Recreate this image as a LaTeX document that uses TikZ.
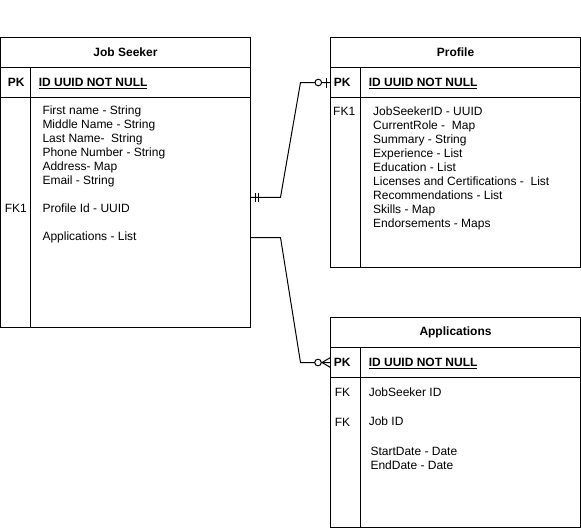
\documentclass[tikz,border=0pt]{standalone}
\usepackage{fontspec}
\setmainfont{Liberation Sans}
\usetikzlibrary{positioning}

\begin{document}
\begin{tikzpicture}[x=1pt,y=-1pt,line width=1pt,node distance=0pt,
                    every node/.style={font=\fontsize{12}{14}\selectfont}]
  \tikzstyle{tablerow}=[draw,rectangle,minimum width=250pt,minimum height=30pt,
                        inner sep=0pt,outer sep=0pt]
  \tikzstyle{tablehead}=[tablerow,font=\fontsize{12}{14}\selectfont\bfseries]
  \tikzstyle{keytext}=[anchor=base west,inner sep=0pt]
  \tikzstyle{pktext}=[keytext,font=\fontsize{12}{14}\selectfont\bfseries]
  \tikzstyle{fields}=[anchor=north west,align=left,inner sep=0pt]

  \useasboundingbox (0,0) rectangle (581,528);

  % Job Seeker
  \node[tablehead] (seeker) at (125.5,52.5)                {Job Seeker};
  \node[tablerow]  (seekerpk)   [below=of seeker]          {};
  \node[tablerow,minimum height=230pt] (seekerbody) [below=of seekerpk] {};
  \draw ([xshift=30pt]seekerpk.north west) -- ([xshift=30pt]seekerbody.south west);
  \node[pktext]  (seekerpkkey) at (7.3,86.8)   {PK};
  \node[pktext]  (seekerid)    at (38.3,86.8)  {\underline{ID UUID NOT NULL}};
  \node[keytext] (seekerfk)    at (4.3,212.3)  {FK1};
  \node[fields]  (seekerattr)  at (42,105.5)   {First name - String\\
                                                 Middle Name - String\\
                                                 Last Name-~ String\\
                                                 Phone Number - String\\
                                                 Address- Map\\
                                                 Email - String\\[14pt]
                                                 Profile Id - UUID\\[14pt]
                                                 Applications - List};

  % Profile
  \node[tablehead] (profile) at (455.5,52.5)               {Profile};
  \node[tablerow]  (profilepk)   [below=of profile]        {};
  \node[tablerow,minimum height=170pt] (profilebody) [below=of profilepk] {};
  \draw ([xshift=30pt]profilepk.north west) -- ([xshift=30pt]profilebody.south west);
  \node[pktext]  (profilepkkey) at (333.3,86.8)  {PK};
  \node[pktext]  (profileid)    at (368.3,86.8)  {\underline{ID UUID NOT NULL}};
  \node[keytext] (profilefk)    at (332.7,115.3) {FK1};
  \node[fields]  (profileattr)  at (372.7,106.2) {JobSeekerID - UUID\\
                                                   CurrentRole -~ Map\\
                                                   Summary - String\\
                                                   Experience - List\\
                                                   Education - List\\
                                                   Licenses and Certifications -~ List\\
                                                   Recommendations - List\\
                                                   Skills - Map\\
                                                   Endorsements - Maps};

  % Applications
  \node[tablehead] (apps) at (455.5,332.5)                 {Applications};
  \node[tablerow]  (appspk)      [below=of apps]           {};
  \node[tablerow,minimum height=150pt] (appsbody) [below=of appspk] {};
  \draw ([xshift=30pt]appspk.north west) -- ([xshift=30pt]appsbody.south west);
  \node[pktext]  (appspkkey)  at (333.3,366.8) {PK};
  \node[pktext]  (appsid)     at (368.3,366.8) {\underline{ID UUID NOT NULL}};
  \node[keytext] (appsfka)    at (334.3,396.3) {FK};
  \node[keytext] (appsseeker) at (368.3,396.3) {JobSeeker ID};
  \node[keytext] (appsfkb)    at (334.3,426)   {FK};
  \node[keytext] (appsjob)    at (368.3,425)   {Job ID};
  \node[fields]  (appsattr)   at (370,446.5)   {StartDate - Date\\
                                                 EndDate - Date};

  % relations
  \coordinate (seekerprofile) at ([yshift=15.2pt]seekerbody.east);
  \coordinate (seekerapps)    at ([yshift=-25pt]seekerbody.east);
  \draw (seekerprofile) -- ++(30,0) -- ([xshift=-30pt]profilepk.west) -- (profilepk.west);
  \draw (seekerapps)    -- ++(30,0) -- ([xshift=-30pt]appspk.west)    -- (appspk.west);

  % one and only one
  \draw ([xshift=5pt]seekerprofile) ++(0,-4.2) -- ++(0,8.4);
  \draw ([xshift=8pt]seekerprofile) ++(0,-4.2) -- ++(0,8.4);
  % zero or one
  \draw ([xshift=-4.5pt]profilepk.west) ++(0,-5) -- ++(0,10);
  \draw[fill=white] ([xshift=-12.2pt]profilepk.west) circle (3.3);
  % zero or many
  \draw ([xshift=-8.5pt]appspk.west) -- ([yshift=5pt]appspk.west)
        ([xshift=-8.5pt]appspk.west) -- ([yshift=-5pt]appspk.west);
  \draw[fill=white] ([xshift=-12.5pt]appspk.west) circle (3.3);
\end{tikzpicture}
\end{document}
